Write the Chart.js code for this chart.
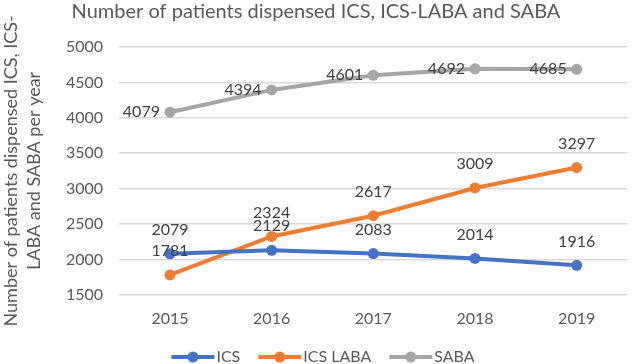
<!DOCTYPE html>
<html>
<head>
<meta charset="utf-8">
<script src="https://cdn.jsdelivr.net/npm/chart.js@4/dist/chart.umd.min.js"></script>
<style>
  html, body { margin: 0; padding: 0; background: #fff; }
  #wrap { width: 633px; height: 364px; }
</style>
</head>
<body>
<div id="wrap"><canvas id="patientsChart"></canvas></div>
<script>
var years = ['2015', '2016', '2017', '2018', '2019'];
var ics = [2079, 2129, 2083, 2014, 1916];
var icsLaba = [1781, 2324, 2617, 3009, 3297];
var saba = [4079, 4394, 4601, 4692, 4685];
var yTicks = [1500, 2000, 2500, 3000, 3500, 4000, 4500, 5000];

var textColor = '#595959';
var fontFamily = 'Lato, "Open Sans", sans-serif';

// line + dot marker for the legend; shifted right so it ends just before the text
function legendMarker(color) {
    const c = document.createElement('canvas');
    c.width = 65;
    c.height = 12;
    const g = c.getContext('2d');
    g.strokeStyle = color;
    g.lineWidth = 4;
    g.beginPath();
    g.moveTo(21, 6);
    g.lineTo(64, 6);
    g.stroke();
    g.fillStyle = color;
    g.beginPath();
    g.arc(42.5, 6, 5.5, 0, Math.PI * 2);
    g.fill();
    return c;
}

// draws the value next to each point, position set per dataset
const valueLabels = {
    id: 'valueLabels',
    afterDatasetsDraw(chart) {
        const ctx = chart.ctx;
        ctx.save();
        ctx.font = '16px ' + fontFamily;
        ctx.fillStyle = '#404040';
        chart.data.datasets.forEach(function (ds, i) {
            const meta = chart.getDatasetMeta(i);
            meta.data.forEach(function (pt, j) {
                const v = ds.data[j];
                ctx.textBaseline = 'middle';
                if (ds.labelPos === 'left') {
                    ctx.textAlign = 'right';
                    ctx.fillText(v, pt.x - 10, pt.y);
                } else {
                    ctx.textAlign = 'center';
                    ctx.fillText(v, pt.x, pt.y - 24);
                }
            });
        });
        ctx.restore();
    }
};

var lineChart_patients;

function init_patients() {
    const ctx = document.getElementById('patientsChart').getContext('2d');
    lineChart_patients = new Chart(ctx, {
        type: 'line',
        data: {
            labels: years,
            datasets: [
                {
                    label: 'ICS',
                    data: ics,
                    borderColor: '#4472C4',
                    backgroundColor: '#4472C4',
                    labelPos: 'top',
                    marker: legendMarker('#4472C4')
                },
                {
                    label: 'ICS LABA',
                    data: icsLaba,
                    borderColor: '#ED7D31',
                    backgroundColor: '#ED7D31',
                    labelPos: 'top',
                    marker: legendMarker('#ED7D31')
                },
                {
                    label: 'SABA',
                    data: saba,
                    borderColor: '#A5A5A5',
                    backgroundColor: '#A5A5A5',
                    labelPos: 'left',
                    marker: legendMarker('#A5A5A5')
                }
            ]
        },
        options: {
            responsive: true,
            maintainAspectRatio: false,
            animation: false,
            layout: { padding: { left: 0, right: 1, top: 0, bottom: -11 } },
            elements: {
                line: { borderWidth: 4, tension: 0 },
                point: { radius: 5.5, hoverRadius: 5.5, borderWidth: 0 }
            },
            plugins: {
                legend: {
                    display: true,
                    position: 'bottom',
                    labels: {
                        color: textColor,
                        font: { family: fontFamily, size: 16 },
                        usePointStyle: true,
                        pointStyleWidth: 51,
                        padding: 4,
                        generateLabels: function (chart) {
                            return chart.data.datasets.map(function (ds, i) {
                                return {
                                    text: ds.label,
                                    fontColor: textColor,
                                    pointStyle: ds.marker,
                                    datasetIndex: i,
                                    lineWidth: 0
                                };
                            });
                        }
                    }
                },
                title: {
                    display: true,
                    text: 'Number of patients dispensed ICS, ICS-LABA and SABA',
                    color: textColor,
                    font: { family: fontFamily, size: 20, weight: 'normal' },
                    padding: { top: 0, bottom: 23 }
                },
                tooltip: { enabled: false }
            },
            scales: {
                x: {
                    offset: true,
                    grid: { display: false, drawTicks: false },
                    border: { display: false },
                    ticks: { color: textColor, font: { family: fontFamily, size: 16 }, padding: 14 },
                    afterFit: function (axis) { axis.height += 3; }
                },
                y: {
                    min: 1500,
                    max: 5000,
                    afterBuildTicks: function (axis) {
                        axis.ticks = yTicks.map(function (v) { return { value: v }; });
                    },
                    grid: { color: '#D9D9D9', lineWidth: 1.5, drawTicks: false },
                    border: { display: false },
                    ticks: {
                        color: textColor,
                        font: { family: fontFamily, size: 16 },
                        padding: 16,
                        callback: function (v) { return String(v); }
                    },
                    title: {
                        display: true,
                        text: ['Number of patients dispensed ICS, ICS-', 'LABA and SABA per year'],
                        color: textColor,
                        font: { family: fontFamily, size: 18, lineHeight: 1.25 },
                        padding: { top: 0, bottom: 5 }
                    }
                }
            }
        },
        plugins: [valueLabels]
    });
}

init_patients();
</script>
</body>
</html>
